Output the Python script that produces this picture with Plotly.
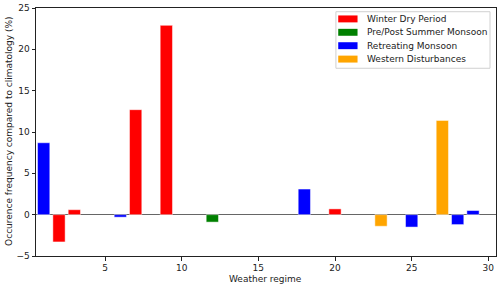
import plotly.graph_objects as go

categories = ["Winter Dry Period", "Pre/Post Summer Monsoon", "Retreating Monsoon", "Western Disturbances"]
colors = ["#ff0000", "#008000", "#0000ff", "#ffa500"]

winter_x = [2, 3, 7, 9, 20]
winter_y = [-3.3, 0.6, 12.7, 22.9, 0.7]
prepost_x = [12]
prepost_y = [-0.9]
retreat_x = [1, 6, 18, 25, 28, 29]
retreat_y = [8.7, -0.3, 3.1, -1.5, -1.2, 0.5]
western_x = [23, 27]
western_y = [-1.4, 11.4]

xticks = [5, 10, 15, 20, 25, 30]
yticks = [-5, 0, 5, 10, 15, 20, 25]
yticklabels = ["\u22125", "0", "5", "10", "15", "20", "25"]

series = [(winter_x, winter_y), (prepost_x, prepost_y), (retreat_x, retreat_y), (western_x, western_y)]

FONT = "DejaVu Sans"
TXT = "#222222"

fig = go.Figure()
for name, col, (xs, ys) in zip(categories, colors, series):
    fig.add_trace(go.Bar(x=xs, y=ys, name=name, width=0.8, showlegend=False,
                         marker=dict(color=col, line=dict(color="rgba(255,255,255,0.6)", width=0.8))))

# custom matplotlib-like legend (paper coordinates)
shapes = [dict(type="rect", xref="paper", yref="paper", x0=0.652, x1=0.987, y0=0.757, y1=0.985,
               line=dict(color="#d0d0d0", width=1), fillcolor="rgba(255,255,255,0.8)", layer="above")]
annotations = []
row_y = [0.956, 0.902, 0.848, 0.794]
for name, col, ry in zip(categories, colors, row_y):
    shapes.append(dict(type="rect", xref="paper", yref="paper", x0=0.657, x1=0.699,
                       y0=ry - 0.014, y1=ry + 0.014, line=dict(width=0), fillcolor=col, layer="above"))
    annotations.append(dict(text=name, xref="paper", yref="paper", x=0.715, y=ry, xanchor="left",
                            yanchor="middle", showarrow=False, font=dict(family=FONT, size=9, color=TXT)))

annotations.append(dict(text="Weather regime", xref="paper", yref="paper", x=0.498, y=-0.092,
                        xanchor="center", yanchor="middle", showarrow=False,
                        font=dict(family=FONT, size=9, color=TXT)))
annotations.append(dict(text="Occurence frequency compared to climatology (%)", xref="paper", yref="paper",
                        x=-0.06, y=0.502, xanchor="center", yanchor="middle", textangle=-90, showarrow=False,
                        font=dict(family=FONT, size=9, color=TXT)))

fig.update_layout(
    width=500, height=288,
    margin=dict(l=36, r=4, t=8, b=32, autoexpand=False),
    plot_bgcolor="white", paper_bgcolor="white",
    barmode="overlay",
    font=dict(family=FONT, size=9, color=TXT),
    showlegend=False,
    shapes=shapes,
    annotations=annotations,
)
fig.update_xaxes(range=[0.5, 30.5], tickvals=xticks, ticks="outside", ticklen=3.5, tickcolor="#222",
                 showline=True, linecolor="#222", linewidth=1, mirror=True, automargin=False,
                 showgrid=False, zeroline=False)
fig.update_yaxes(range=[-5, 25], tickvals=yticks, ticktext=yticklabels, ticks="outside", ticklen=3.5,
                 tickcolor="#222", automargin=False,
                 showline=True, linecolor="#222", linewidth=1, mirror=True,
                 showgrid=False, zeroline=True, zerolinecolor="#666666", zerolinewidth=1)

fig.write_html("out.html", config={"displayModeBar": False},
               post_script="document.body.style.margin='0';document.body.style.overflow='hidden';")
